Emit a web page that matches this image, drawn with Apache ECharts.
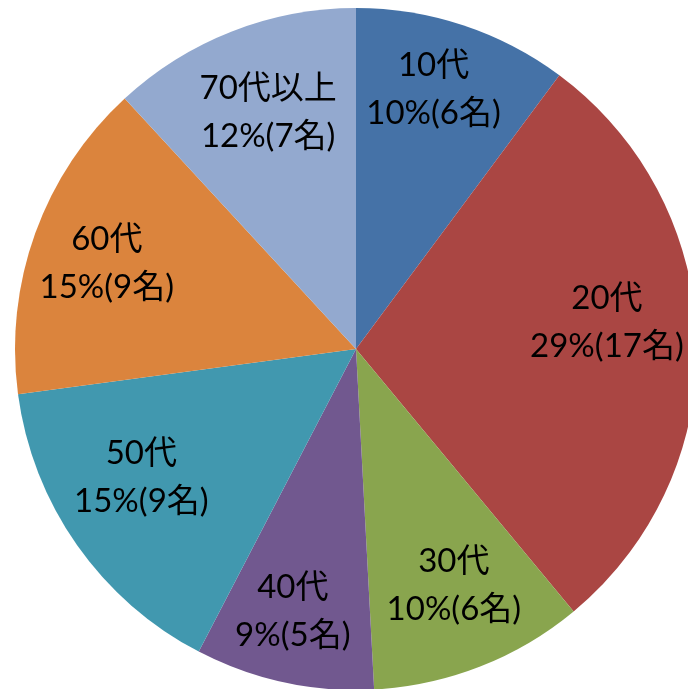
<!DOCTYPE html>
<html><head><meta charset="utf-8">
<script src="https://cdn.jsdelivr.net/npm/echarts@6/dist/echarts.min.js"></script>
<style>html,body{margin:0;padding:0;background:#fff;}#c{width:688px;height:689px;}</style>
</head><body><div id="c"></div>
<script>
const categories = ['10代','20代','30代','40代','50代','60代','70代以上'];
const counts = [6,17,6,5,9,9,7];
const percents = [10,29,10,9,15,15,12];
const colors = ['#4572A7','#AA4643','#89A54E','#71588F','#4198AF','#DB843D','#93A9CF'];
// label fine placement (style only)
const labelNudge = [[-6,-7],[-15,-20],[1,-11],[-7,2],[3,-25],[1,5],[9,11]];
const data = categories.map((n,i)=>({name:n,value:counts[i],itemStyle:{color:colors[i]}}));
const chart = echarts.init(document.getElementById('c'));
chart.setOption({
  animation:false,
  series:[
    {type:'pie',center:[356,349],radius:[0,341],startAngle:90,clockwise:true,
     data:data,label:{show:false},labelLine:{show:false},silent:true,
     itemStyle:{borderWidth:0}},
    {type:'pie',center:[356,349],radius:[185,341],startAngle:90,clockwise:true,
     data:categories.map((n,i)=>({name:n,value:counts[i],itemStyle:{color:'rgba(0,0,0,0)'},
       label:{offset:labelNudge[i]}})),
     silent:true,labelLine:{show:false},
     label:{show:true,position:'inside',color:'#000',fontSize:33,lineHeight:48,
       fontFamily:"Lato, 'Noto Sans CJK JP', sans-serif",
       formatter:p=>p.name+'\n'+percents[p.dataIndex]+'%('+p.value+'名)'}}
  ]
});
</script></body></html>
